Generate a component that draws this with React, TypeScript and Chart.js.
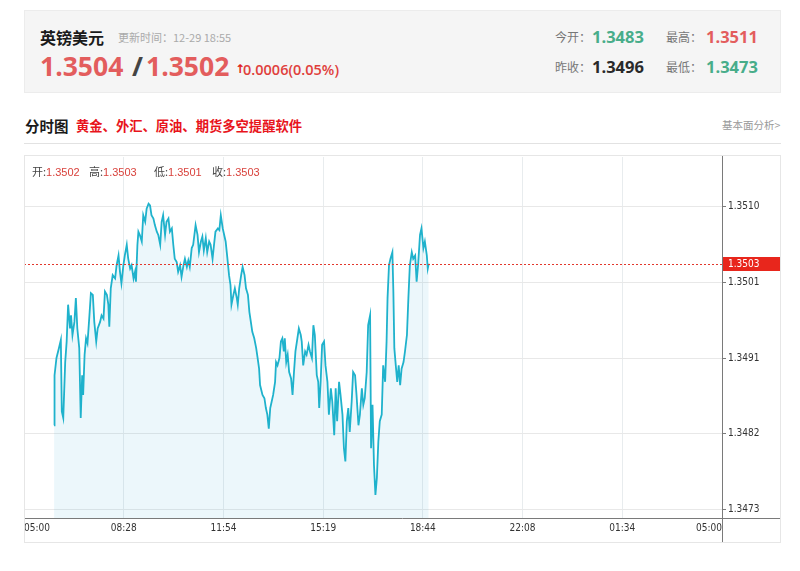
import React, { useEffect, useRef } from "react";
import { Chart, registerables } from "chart.js";

Chart.register(...registerables);

// ---- data ----
const times: string[] = [
  "06:02", "06:03", "06:07", "06:12", "06:16", "06:18", "06:21", "06:25", "06:28", "06:31",
  "06:35", "06:37", "06:40", "06:44", "06:47", "06:50", "06:54", "06:57", "07:00", "07:02",
  "07:05", "07:08", "07:11", "07:15", "07:18", "07:22", "07:25", "07:29", "07:32", "07:37",
  "07:40", "07:44", "07:47", "07:51", "07:54", "07:56", "07:59", "08:03", "08:08", "08:11",
  "08:15", "08:18", "08:21", "08:25", "08:28", "08:32", "08:35", "08:39", "08:42", "08:46",
  "08:49", "08:51", "08:54", "08:56", "08:59", "09:03", "09:06", "09:10", "09:13", "09:17",
  "09:20", "09:23", "09:27", "09:30", "09:34", "09:37", "09:41", "09:44", "09:47", "09:51",
  "09:54", "09:58", "10:01", "10:05", "10:08", "10:11", "10:15", "10:18", "10:22", "10:25",
  "10:29", "10:32", "10:36", "10:39", "10:42", "10:46", "10:49", "10:54", "10:58", "11:01",
  "11:05", "11:08", "11:11", "11:15", "11:18", "11:22", "11:25", "11:29", "11:32", "11:35",
  "11:40", "11:43", "11:46", "11:50", "11:53", "11:56", "11:59", "12:03", "12:06", "12:08",
  "12:12", "12:15", "12:19", "12:21", "12:24", "12:28", "12:31", "12:35", "12:38", "12:42",
  "12:45", "12:48", "12:51", "12:55", "12:59", "13:02", "13:05", "13:07", "13:12", "13:16",
  "13:19", "13:22", "13:25", "13:28", "13:31", "13:34", "13:38", "13:40", "13:43", "13:47",
  "13:50", "13:53", "13:56", "13:58", "14:01", "14:04", "14:07", "14:11", "14:14", "14:17",
  "14:20", "14:24", "14:27", "14:31", "14:33", "14:36", "14:40", "14:43", "14:47", "14:50",
  "14:54", "14:57", "15:00", "15:04", "15:07", "15:09", "15:12", "15:15", "15:19", "15:22",
  "15:26", "15:29", "15:33", "15:36", "15:40", "15:43", "15:46", "15:50", "15:53", "15:57",
  "16:00", "16:03", "16:06", "16:09", "16:12", "16:16", "16:19", "16:23", "16:26", "16:30",
  "16:33", "16:37", "16:40", "16:43", "16:47", "16:50", "16:54", "16:56", "16:59", "17:02",
  "17:05", "17:08", "17:11", "17:14", "17:18", "17:21", "17:25", "17:28", "17:30", "17:33",
  "17:36", "17:40", "17:42", "17:44", "17:47", "17:50", "17:53", "17:56", "17:59", "18:03",
  "18:06", "18:10", "18:13", "18:16", "18:20", "18:23", "18:27", "18:30", "18:33", "18:37",
  "18:40", "18:44", "18:47", "18:51", "18:53", "18:55",
];

const prices: number[] = [
  1.34833, 1.34894, 1.34915, 1.34927, 1.34937, 1.3485, 1.34842, 1.3491, 1.34935, 1.3498,
  1.34951, 1.34967, 1.34943, 1.34959, 1.34988, 1.34951, 1.34927, 1.34842, 1.34894, 1.3487,
  1.34919, 1.34939, 1.34933, 1.34967, 1.34994, 1.34992, 1.34959, 1.34935, 1.34951, 1.34959,
  1.34967, 1.34963, 1.34996, 1.34992, 1.3498, 1.34953, 1.35, 1.35016, 1.35012, 1.35028,
  1.3504, 1.3502, 1.35006, 1.35028, 1.3504, 1.35053, 1.35036, 1.35024, 1.35028, 1.35012,
  1.3502, 1.35008, 1.35053, 1.35069, 1.35065, 1.35057, 1.35089, 1.35081, 1.35097, 1.35103,
  1.35101, 1.35089, 1.35085, 1.35077, 1.35069, 1.35065, 1.35053, 1.35081, 1.35089, 1.35065,
  1.35081, 1.35085, 1.35069, 1.35073, 1.35053, 1.35036, 1.35032, 1.3502, 1.35028, 1.35014,
  1.35028, 1.35036, 1.35026, 1.35034, 1.35026, 1.35049, 1.35053, 1.35077, 1.35065, 1.35044,
  1.35057, 1.35063, 1.35046, 1.35061, 1.35044, 1.35057, 1.35053, 1.35036, 1.35053, 1.35069,
  1.35073, 1.35071, 1.35089, 1.35073, 1.35065, 1.35057, 1.3504, 1.35016, 1.35004, 1.3498,
  1.34992, 1.35, 1.34988, 1.3498, 1.35, 1.35016, 1.35026, 1.35016, 1.35, 1.34992,
  1.34971, 1.34959, 1.34947, 1.34939, 1.34927, 1.34915, 1.34902, 1.34882, 1.3487, 1.34866,
  1.34854, 1.34846, 1.34829, 1.34854, 1.34862, 1.3487, 1.34886, 1.3491, 1.34906, 1.34915,
  1.34935, 1.34939, 1.34923, 1.34939, 1.3491, 1.34919, 1.34898, 1.3489, 1.3487, 1.34898,
  1.34923, 1.34939, 1.34951, 1.34943, 1.34935, 1.34906, 1.34923, 1.34919, 1.34931, 1.34923,
  1.34915, 1.34955, 1.34943, 1.34894, 1.34886, 1.34854, 1.34886, 1.34931, 1.34935, 1.34906,
  1.34886, 1.34846, 1.34878, 1.34862, 1.34821, 1.34878, 1.34838, 1.34886, 1.3487, 1.34846,
  1.34805, 1.34789, 1.34838, 1.34854, 1.34825, 1.34862, 1.34898, 1.34894, 1.3487, 1.34833,
  1.34846, 1.34878, 1.34858, 1.34866, 1.34898, 1.34955, 1.34967, 1.34805, 1.34858, 1.34785,
  1.34748, 1.34769, 1.34813, 1.34838, 1.34846, 1.34906, 1.34886, 1.34935, 1.34988, 1.35028,
  1.35036, 1.35044, 1.34996, 1.34927, 1.34906, 1.34886, 1.34906, 1.34882, 1.34902, 1.3491,
  1.34923, 1.34943, 1.34988, 1.35028, 1.35044, 1.35036, 1.3504, 1.35008, 1.35028, 1.35065,
  1.35073, 1.35049, 1.35057, 1.3504, 1.35024, 1.3503,
];

const xTickLabels = ["05:00", "08:28", "11:54", "15:19", "18:44", "22:08", "01:34", "05:00"];
const yTickLabels = ["1.3473", "1.3482", "1.3491", "1.3501", "1.3510"];
const yTickValues = [1.3473, 1.348225, 1.34915, 1.350075, 1.351];
const yMin = 1.3472;
const yMax = 1.3516;
const sessionStart = "05:00";
const sessionMinutes = 1440;
const lastPrice = 1.3503;
const lastPriceLabel = "1.3503";

const ohlcLabels = ["开", "高", "低", "收"];
const ohlcValues = ["1.3502", "1.3503", "1.3501", "1.3503"];

// ---- helpers ----
const toMinutes = (t: string) => {
  const [h, m] = t.split(":").map(Number);
  const [sh, sm] = sessionStart.split(":").map(Number);
  return (h * 60 + m - (sh * 60 + sm) + 1440) % 1440;
};

const AXIS_FONT = "'DejaVu Sans Condensed', 'Liberation Sans', sans-serif";
const CJK = "'Noto Sans CJK SC', sans-serif";
const NUM = "'Open Sans', 'Noto Sans CJK SC', sans-serif";

const overlayPlugin = {
  id: "overlay",
  afterDatasetsDraw(chart: any) {
    const { ctx, chartArea: a, scales } = chart;
    const py = Math.round(scales.y.getPixelForValue(lastPrice)) + 0.5;
    ctx.save();
    ctx.strokeStyle = "#e2372c";
    ctx.lineWidth = 1;
    ctx.setLineDash([2, 2]);
    ctx.beginPath();
    ctx.moveTo(a.left, py);
    ctx.lineTo(a.right, py);
    ctx.stroke();
    ctx.restore();
  },
  afterDraw(chart: any) {
    const { ctx, chartArea: a, scales, width, height } = chart;
    ctx.save();
    ctx.strokeStyle = "#7a7a7a";
    ctx.lineWidth = 1;
    const bx = Math.round(a.bottom) + 0.5;
    ctx.beginPath();
    ctx.moveTo(a.left, bx);
    ctx.lineTo(width, bx);
    ctx.stroke();
    const rx = Math.round(a.right) + 0.5;
    ctx.beginPath();
    ctx.moveTo(rx, 0);
    ctx.lineTo(rx, height);
    ctx.stroke();
    // last price tag
    const py = scales.y.getPixelForValue(lastPrice);
    ctx.fillStyle = "#e8261c";
    ctx.fillRect(a.right + 1, Math.round(py) - 7, 58, 14);
    ctx.fillStyle = "#ffffff";
    ctx.font = "10px " + AXIS_FONT;
    ctx.textBaseline = "middle";
    ctx.textAlign = "left";
    ctx.fillText(lastPriceLabel, a.right + 6, Math.round(py));
    ctx.restore();
  },
};

const abs = (s: React.CSSProperties): React.CSSProperties => ({ position: "absolute", whiteSpace: "nowrap", ...s });

export default function App() {
  const ref = useRef<HTMLCanvasElement>(null);

  useEffect(() => {
    if (!ref.current) return;
    const chart = new Chart(ref.current, {
      type: "line",
      data: {
        datasets: [
          {
            data: times.map((t, i) => ({ x: toMinutes(t), y: prices[i] })),
            borderColor: "#1fb2cc",
            borderWidth: 1.8,
            pointRadius: 0,
            tension: 0,
            fill: "start",
            backgroundColor: "rgba(40,170,215,0.09)",
          },
        ],
      },
      options: {
        animation: false,
        responsive: false,
        maintainAspectRatio: false,
        layout: { padding: { top: 2, left: 0, right: 0, bottom: 0 } },
        plugins: { legend: { display: false }, tooltip: { enabled: false } },
        scales: {
          x: {
            type: "linear",
            min: 0,
            max: sessionMinutes,
            afterBuildTicks: (s: any) => {
              s.ticks = xTickLabels.map((_, i) => ({ value: (i * sessionMinutes) / (xTickLabels.length - 1) }));
            },
            afterFit: (s: any) => {
              s.height = 25;
              s.paddingLeft = 0;
              s.paddingRight = 0;
            },
            ticks: {
              autoSkip: false,
              maxRotation: 0,
              align: "inner",
              padding: 4,
              color: "#333",
              font: { size: 10, family: AXIS_FONT },
              callback: (_v: any, i: number) => xTickLabels[i],
            },
            grid: { color: "#e8ecee", drawTicks: false },
            border: { display: false },
          },
          y: {
            position: "right",
            min: yMin,
            max: yMax,
            afterBuildTicks: (s: any) => {
              s.ticks = yTickValues.map((v) => ({ value: v }));
            },
            afterFit: (s: any) => {
              s.width = 59;
              s.paddingTop = 0;
              s.paddingBottom = 0;
            },
            ticks: {
              padding: 2,
              color: "#333",
              font: { size: 10, family: AXIS_FONT },
              callback: (_v: any, i: number) => yTickLabels[i],
            },
            grid: { color: "#e8e8e8", tickLength: 4, tickColor: "#7a7a7a" },
            border: { display: false },
          },
        },
      } as any,
      plugins: [overlayPlugin],
    });
    return () => chart.destroy();
  }, []);

  return (
    <div style={{ position: "absolute", left: 0, top: 0, width: 800, height: 571, background: "#fff" }}>
      {/* header panel */}
      <div style={abs({ left: 24, top: 10, width: 757, height: 83, background: "#f5f5f5", border: "1px solid #ececec", boxSizing: "border-box" })} />
      <div style={abs({ left: 40, top: 27, lineHeight: "20px", fontSize: 16, fontWeight: 700, color: "#1a1a1a", fontFamily: CJK })}>英镑美元</div>
      <div style={abs({ left: 118, top: 29, lineHeight: "16px", fontSize: 11, color: "#aaa", fontFamily: CJK })}>更新时间：12-29 18:55</div>
      <div style={abs({ left: 40, top: 50, lineHeight: "32px", fontSize: 26.5, fontWeight: 700, color: "#e35d5d", fontFamily: NUM })}>1.3504</div>
      <div style={abs({ left: 132, top: 50, lineHeight: "32px", fontSize: 26.5, fontWeight: 700, color: "#444", fontFamily: NUM })}>/</div>
      <div style={abs({ left: 146, top: 50, lineHeight: "32px", fontSize: 26.5, fontWeight: 700, color: "#e35d5d", fontFamily: NUM })}>1.3502</div>
      <div style={abs({ left: 235, top: 60, lineHeight: "18px", fontSize: 12, fontWeight: 700, color: "#e0201c", fontFamily: "'DejaVu Sans', sans-serif" })}>↑</div>
      <div style={abs({ left: 243, top: 61, lineHeight: "18px", fontSize: 14.5, fontWeight: 600, color: "#e0403c", fontFamily: NUM })}>0.0006(0.05%)</div>

      <div style={abs({ left: 555, top: 29, lineHeight: "16px", fontSize: 12, color: "#777", fontFamily: CJK })}>今开：</div>
      <div style={abs({ left: 592, top: 26, lineHeight: "22px", fontSize: 16.5, fontWeight: 700, color: "#48ad8a", fontFamily: NUM })}>1.3483</div>
      <div style={abs({ left: 666, top: 29, lineHeight: "16px", fontSize: 12, color: "#777", fontFamily: CJK })}>最高：</div>
      <div style={abs({ left: 706, top: 26, lineHeight: "22px", fontSize: 16.5, fontWeight: 700, color: "#e35d5d", fontFamily: NUM })}>1.3511</div>
      <div style={abs({ left: 555, top: 59, lineHeight: "16px", fontSize: 12, color: "#777", fontFamily: CJK })}>昨收：</div>
      <div style={abs({ left: 592, top: 56, lineHeight: "22px", fontSize: 16.5, fontWeight: 700, color: "#2a2a2a", fontFamily: NUM })}>1.3496</div>
      <div style={abs({ left: 666, top: 59, lineHeight: "16px", fontSize: 12, color: "#777", fontFamily: CJK })}>最低：</div>
      <div style={abs({ left: 706, top: 56, lineHeight: "22px", fontSize: 16.5, fontWeight: 700, color: "#48ad8a", fontFamily: NUM })}>1.3473</div>

      {/* section title */}
      <div style={abs({ left: 25, top: 116, lineHeight: "20px", fontSize: 14.5, fontWeight: 700, color: "#1a1a1a", fontFamily: CJK })}>分时图</div>
      <div style={abs({ left: 76, top: 116, lineHeight: "20px", fontSize: 13.3, fontWeight: 700, color: "#e8141c", fontFamily: CJK })}>黄金、外汇、原油、期货多空提醒软件</div>
      <div style={abs({ left: 722, top: 117, lineHeight: "16px", fontSize: 10.5, color: "#999", fontFamily: CJK })}>基本面分析&gt;</div>
      <div style={abs({ left: 24, top: 143, width: 757, height: 1, background: "#e2e2e2" })} />

      {/* chart */}
      <canvas ref={ref} width={757} height={388} style={abs({ left: 24, top: 155, display: "block" })} />
      <div style={abs({ left: 24, top: 155, width: 757, height: 388, border: "1px solid #e6e6e6", boxSizing: "border-box", pointerEvents: "none" })} />
      {ohlcLabels.map((l, i) => (
        <div key={l} style={abs({ left: [32, 89, 154, 212][i], top: 163, lineHeight: "16px", fontSize: 11, fontFamily: "'Liberation Sans', 'Noto Sans CJK SC', sans-serif" })}>
          <span style={{ color: "#444", fontFamily: CJK }}>{l}:</span>
          <span style={{ color: "#d9423c" }}>{ohlcValues[i]}</span>
        </div>
      ))}
    </div>
  );
}
